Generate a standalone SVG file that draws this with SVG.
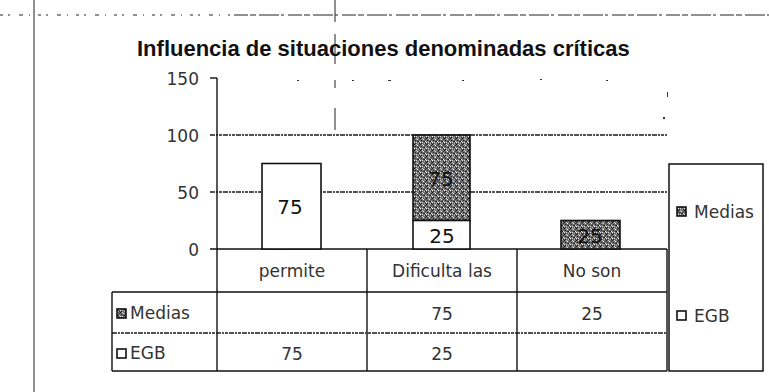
<svg xmlns="http://www.w3.org/2000/svg" width="769" height="392" viewBox="0 0 769 392">
  <style>
    .t { font-family: "DejaVu Sans", "Liberation Sans", sans-serif; fill: #1a1a1a; }
    .title { font-family: "Liberation Sans", Arial, sans-serif; font-size: 22px; font-weight: bold; fill: #111; }
    .ax { font-size: 17px; text-anchor: end; fill: #333; }
    .cat { font-size: 17px; text-anchor: middle; fill: #333; }
    .val { font-size: 17px; text-anchor: middle; fill: #333; }
    .bar { font-size: 20px; text-anchor: middle; fill: #111; }
    .lg { font-size: 17px; fill: #333; }
    .grid { stroke: #1a1a1a; stroke-width: 1.3; stroke-dasharray: 5 1 2 1 3 1; fill: none; }
    .solid { stroke: #111; stroke-width: 1.4; fill: none; }
    .egb { fill: #fff; stroke: #111; stroke-width: 1.6; }
    .med { fill: url(#stip); stroke: #111; stroke-width: 1.6; }
    .scan { stroke: #222; stroke-width: 1; fill: none; }
  </style>
  <defs>
    <pattern id="stip" width="6" height="6" patternUnits="userSpaceOnUse">
      <rect width="6" height="6" fill="#6f6f6f"/>
      <rect x="0" y="0" width="1" height="1" fill="#111"/>
      <rect x="3" y="1" width="1" height="1" fill="#eee"/>
      <rect x="1" y="2" width="1" height="1" fill="#222"/>
      <rect x="4" y="3" width="1" height="1" fill="#111"/>
      <rect x="2" y="4" width="1" height="1" fill="#ddd"/>
      <rect x="5" y="5" width="1" height="1" fill="#222"/>
      <rect x="0" y="4" width="1" height="1" fill="#f4f4f4"/>
      <rect x="5" y="1" width="1" height="1" fill="#333"/>
      <rect x="2" y="0" width="1" height="1" fill="#cfcfcf"/>
      <rect x="4" y="5" width="1" height="1" fill="#bbb"/>
      <rect x="3" y="3" width="1" height="1" fill="#333"/>
      <rect x="1" y="5" width="1" height="1" fill="#222"/>
      <rect x="5" y="3" width="1" height="1" fill="#e8e8e8"/>
    </pattern>
  </defs>
  <rect width="769" height="392" fill="#fff"/>

  <g id="scan-artifacts">
    <line class="scan" x1="0" y1="15" x2="230" y2="15" stroke-dasharray="3 5 2 9 4 6 1 8"/>
    <line class="scan" x1="234" y1="15" x2="769" y2="15" stroke-dasharray="14 2 6 3 20 2 3 4"/>
    <line class="scan" x1="34" y1="0" x2="34" y2="392" stroke-width="1.3"/>
    <line class="scan" x1="335" y1="0" x2="335" y2="140" stroke-dasharray="22 12 30 16 8 20" stroke-width="0.8"/>
    <g fill="#333">
      <rect x="297" y="80" width="2" height="1"/>
      <rect x="352" y="80" width="2" height="1"/>
      <rect x="388" y="80" width="3" height="1"/>
      <rect x="462" y="80" width="2" height="1"/>
      <rect x="540" y="79" width="2" height="1"/>
      <rect x="606" y="80" width="2" height="1"/>
      <rect x="667" y="92" width="1" height="5"/>
      <rect x="663" y="117" width="2" height="2"/>
    </g>
  </g>

  <text id="title" class="title" x="137" y="56">Influencia de situaciones denominadas críticas</text>

  <g id="axis">
    <line class="solid" x1="217" y1="78" x2="217" y2="371"/>
    <line class="solid" x1="210" y1="78" x2="217" y2="78"/>
    <line class="grid" x1="210" y1="135" x2="667" y2="135"/>
    <line class="grid" x1="210" y1="192" x2="667" y2="192"/>
    <line class="solid" x1="210" y1="249" x2="667" y2="249"/>
    <text class="t ax" x="199" y="85">150</text>
    <text class="t ax" x="199" y="142">100</text>
    <text class="t ax" x="199" y="199">50</text>
    <text class="t ax" x="199" y="256">0</text>
  </g>

  <g id="bars">
    <g id="bar-permite">
      <rect class="egb" x="262" y="163.5" width="59" height="85.5"/>
      <text class="t bar" x="290" y="214">75</text>
    </g>
    <g id="bar-dificulta">
      <rect class="med" x="413" y="135" width="57" height="85.5"/>
      <rect class="egb" x="413" y="220.5" width="57" height="28.5"/>
      <text class="t bar" x="441" y="186">75</text>
      <text class="t bar" x="442" y="243">25</text>
    </g>
    <g id="bar-noson">
      <rect class="med" x="561" y="220.5" width="59" height="28.5"/>
      <text class="t bar" x="590" y="243">25</text>
    </g>
  </g>

  <g id="table">
    <line class="solid" x1="367" y1="249" x2="367" y2="371"/>
    <line class="solid" x1="517" y1="249" x2="517" y2="371"/>
    <line class="solid" x1="667" y1="249" x2="667" y2="371"/>
    <line class="solid" x1="112" y1="292" x2="667" y2="292"/>
    <line class="grid" x1="112" y1="333" x2="667" y2="333"/>
    <line class="solid" x1="112" y1="371" x2="667" y2="371"/>
    <line class="solid" x1="112" y1="292" x2="112" y2="371"/>
    <text class="t cat" x="292" y="277">permite</text>
    <text class="t cat" x="442" y="277">Dificulta las</text>
    <text class="t cat" x="592" y="277">No son</text>
    <rect class="med" x="117" y="309" width="9" height="9" stroke-width="1.2"/>
    <text class="t lg" x="130" y="319">Medias</text>
    <rect class="egb" x="117" y="349" width="9" height="9" stroke-width="1.2"/>
    <text class="t lg" x="130" y="359">EGB</text>
    <text class="t val" x="442" y="320">75</text>
    <text class="t val" x="592" y="320">25</text>
    <text class="t val" x="292" y="360">75</text>
    <text class="t val" x="442" y="360">25</text>
  </g>

  <g id="legend">
    <rect x="669" y="164" width="94" height="207" fill="#fff" stroke="#111" stroke-width="1.5"/>
    <g id="legend-medias">
      <rect class="med" x="677" y="207" width="9" height="9" stroke-width="1.2"/>
      <text class="t lg" x="694" y="218">Medias</text>
    </g>
    <g id="legend-egb">
      <rect class="egb" x="677" y="311" width="9" height="9" stroke-width="1.2"/>
      <text class="t lg" x="694" y="322">EGB</text>
    </g>
  </g>
</svg>
